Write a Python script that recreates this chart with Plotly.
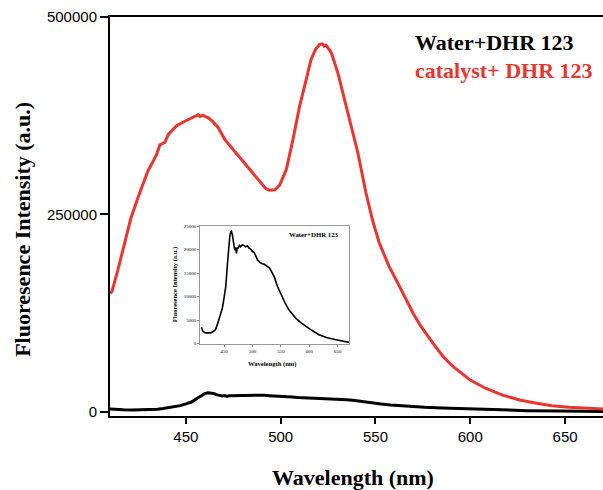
import plotly.graph_objects as go

# ---- data ----
red_wl = [410, 411, 414, 418, 421, 425, 428, 430, 432.5, 434.6, 436.3, 438.9, 440.7, 443, 445,
          448, 450, 453, 456.5, 457.5, 459, 462, 464, 467, 470.5, 475, 479, 482, 486, 489, 492,
          494, 497, 499.5, 501, 503, 506.5, 510, 513.5, 516, 518.4, 520.5, 522, 523, 524,
          526.7, 530.2, 533.7, 537.2, 540.7, 545, 548.6, 552, 557, 562.6, 566, 570, 574, 578,
          582, 586, 591, 600, 608, 617, 626, 635, 643, 652, 660, 670]
red_int = [150000, 152000, 178000, 218000, 245000, 273000, 293000, 305000, 316000, 326000, 338000,
           341000, 351000, 357000, 362000, 366000, 368000, 372000, 376000, 374000, 375500, 372000,
           368000, 360000, 345000, 332000, 320000, 311000, 300000, 292000, 283000, 280500, 281000,
           287000, 296000, 307000, 345000, 387000, 421000, 446000, 459000, 465000, 466000, 463000,
           464000, 455000, 429000, 396000, 362000, 328000, 277000, 241000, 214000, 185000, 159000,
           142000, 124000, 108000, 94000, 81000, 69000, 57000, 40000, 29700, 21000, 14800, 10600,
           7600, 5500, 4300, 3300]

blk_wl = [410, 413, 417, 422, 426, 431, 435, 438, 441, 444, 447, 450, 453, 456, 458, 460, 461.7,
          463, 464.7, 466, 468, 469.4, 470.5, 471.7, 473, 475, 477, 479, 482, 485, 488, 491, 494,
          497, 500, 503, 506, 509, 513, 517, 521, 526, 530, 535, 539, 544, 548, 553, 558, 564,
          570, 576, 585, 594, 605, 617, 630, 647, 660, 670]
blk_int = [3500, 2600, 2300, 2250, 2300, 2600, 3000, 4000, 5100, 6300, 7600, 9800, 12200, 17100,
           20500, 22800, 23800, 23900, 23100, 21500, 20400, 19900, 20500, 19200, 20300, 20400,
           20900, 20600, 21000, 20900, 20600, 20800, 20300, 20100, 19600, 19400, 18600, 17800,
           17300, 17000, 16900, 16400, 16100, 15000, 14000, 12150, 11000, 9700, 8500, 7200,
           6300, 5450, 4500, 3670, 2800, 1900, 1300, 850, 500, 280]

main_xticks = [450, 500, 550, 600, 650]
main_yticks = [0, 250000, 500000]
inset_yticks = [0, 5000, 10000, 15000, 20000, 25000]

RED = "rgb(236,52,48)"

fig = go.Figure()
fig.add_trace(go.Scatter(x=blk_wl, y=blk_int, mode="lines",
                         line=dict(color="black", width=3), xaxis="x", yaxis="y",
                         name="Water+DHR 123"))
fig.add_trace(go.Scatter(x=red_wl, y=red_int, mode="lines",
                         line=dict(color=RED, width=3), xaxis="x", yaxis="y",
                         name="catalyst+ DHR 123"))
fig.add_trace(go.Scatter(x=blk_wl, y=blk_int, mode="lines",
                         line=dict(color="black", width=1.6), xaxis="x2", yaxis="y2",
                         name="inset"))

tick_font = dict(family="Liberation Sans, Arial", size=15, color="black")
serif_b = "Liberation Serif, Times New Roman"

fig.update_layout(
    width=603, height=490,
    margin=dict(l=110, r=0, t=17, b=74),
    paper_bgcolor="white", plot_bgcolor="white",
    showlegend=False,
    xaxis=dict(range=[410, 670], tickvals=main_xticks, ticks="outside", ticklen=6,
               tickwidth=2, tickcolor="black", showline=True, linecolor="black",
               linewidth=2, mirror=True, showgrid=False, zeroline=False,
               tickfont=tick_font),
    yaxis=dict(range=[-5500, 500000], tickvals=main_yticks, tickformat="d",
               ticks="outside", ticklen=8, tickwidth=2, tickcolor="black",
               showline=True, linecolor="black", linewidth=2, showgrid=False,
               zeroline=False, tickfont=tick_font),
    xaxis2=dict(domain=[0.183, 0.485], anchor="y2", range=[408, 670],
                tickvals=main_xticks, ticks="outside", ticklen=2, tickwidth=1,
                tickcolor="#888", showline=True, linecolor="#999", linewidth=1,
                mirror=True, showgrid=False, zeroline=False,
                tickfont=dict(family=serif_b, size=5, color="black")),
    yaxis2=dict(domain=[0.180, 0.477], anchor="x2", range=[-100, 25100],
                tickvals=inset_yticks, tickformat="d", ticks="outside", ticklen=2,
                tickwidth=1, tickcolor="#888", showline=True, linecolor="#999",
                linewidth=1, mirror=True, showgrid=False, zeroline=False,
                tickfont=dict(family=serif_b, size=5, color="black")),
)

ann = [
    dict(text="<b>Wavelength (nm)</b>", x=0.492, y=-0.153, font=dict(family=serif_b, size=22)),
    dict(text="<b>Fluoresence Intensity (a.u.)</b>", x=-0.1765, y=0.469, textangle=-90,
         font=dict(family=serif_b, size=22)),
    dict(text="<b>Water+DHR 123</b>", x=0.6146, y=0.935, xanchor="left",
         font=dict(family=serif_b, size=22)),
    dict(text="<b>catalyst+ DHR 123</b>", x=0.6146, y=0.8654, xanchor="left",
         font=dict(family=serif_b, size=22, color=RED)),
    dict(text="<b>Fluoresence Intensity (a.u.)</b>", x=0.132, y=0.328, textangle=-90,
         font=dict(family=serif_b, size=6.5)),
    dict(text="<b>Wavelength (nm)</b>", x=0.3296, y=0.130, font=dict(family=serif_b, size=6.6)),
    dict(text="<b>Water+DHR 123</b>", x=0.4128, y=0.456, font=dict(family=serif_b, size=6.8)),
]
for a in ann:
    a.setdefault("xanchor", "center")
    a["font"].setdefault("color", "black")
    fig.add_annotation(xref="paper", yref="paper", showarrow=False, yanchor="middle", **a)

fig.write_html("out.html")
